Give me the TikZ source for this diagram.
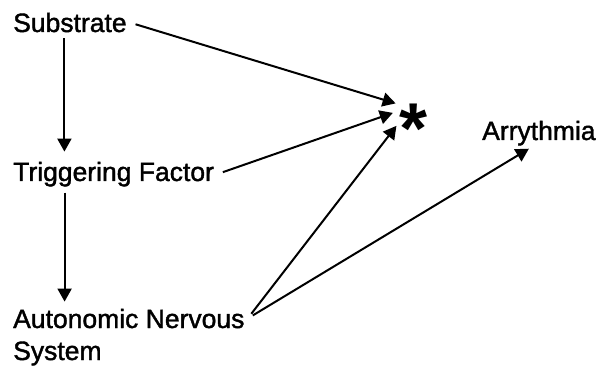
\documentclass[tikz,border=0pt]{standalone}
\usepackage{fontspec}
\setmainfont{Liberation Sans}
\newfontfamily\lblfont{Liberation Sans}[FakeBold=1.5]
\usetikzlibrary{arrows.meta}

\begin{document}
\begin{tikzpicture}[x=1pt,y=-1pt]
            \tikzset{lbl/.style = {anchor=base west, inner sep=3pt, font=\lblfont\fontsize{26.5}{32}\selectfont}}
            \tikzset{arr/.style = {line width=2pt, -{Triangle[length=13pt,width=14pt]}}}
            \tikzset{farr/.style = {arr, shorten <=6pt}}

            \useasboundingbox (0,0) rectangle (597,366);

            \node[lbl] (sub) at (10,32) {Substrate};
            \node[lbl] (trig) at (10,181) {Triggering Factor};
            \node[lbl] (ans) at (10,328) {Autonomic Nervous};
            \node[lbl] (sys) at (10,360) {System};
            \node[lbl] (arr) at (479,140) {Arrythmia};

            % the asterisk
            \node[circle, inner sep=0pt, minimum size=42pt] (star) at (414,114)
                {\raisebox{-40pt}[0pt][0pt]{\fontsize{72}{72}\selectfont\bfseries *}};

            \draw[arr, shorten <=3pt, shorten >=7pt] ([xshift=-5.5pt]sub.south) -- ([xshift=-5.5pt]sub.south |- trig.north);
            \draw[arr, shorten <=3pt, shorten >=4pt] ([xshift=-49pt]trig.south) -- ([xshift=-49pt]trig.south |- ans.north);

            \draw[farr] (sub.east) -- (star.150);
            \draw[farr] (trig.east) -- (star.177);
            \draw[farr] (ans.east) -- (star.214);
            \draw[farr] (ans.east) -- ([xshift=-10pt]arr.south);

        \end{tikzpicture}
\end{document}
